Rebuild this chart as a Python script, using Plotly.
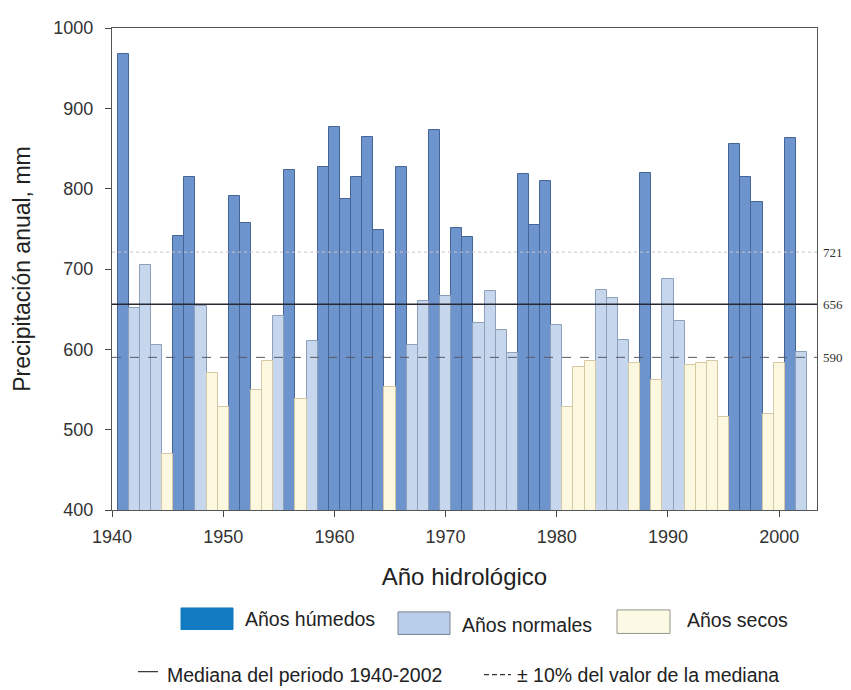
import plotly.graph_objects as go

years = list(range(1941, 2003))
values = [968, 652, 705, 605, 470, 741, 814, 654, 570, 528,
          791, 757, 549, 586, 642, 823, 538, 610, 827, 877,
          787, 814, 864, 748, 553, 827, 605, 660, 873, 667,
          751, 740, 633, 673, 624, 596, 818, 755, 809, 630,
          528, 578, 586, 674, 664, 612, 583, 820, 562, 688,
          635, 581, 583, 585, 516, 855, 814, 783, 519, 583,
          863, 597]
categories = ["H", "N", "N", "N", "S", "H", "H", "N", "S", "S",
              "H", "H", "S", "S", "N", "H", "S", "N", "H", "H",
              "H", "H", "H", "H", "S", "H", "N", "N", "H", "N",
              "H", "H", "N", "N", "N", "N", "H", "H", "H", "N",
              "S", "S", "S", "N", "N", "N", "S", "H", "S", "N",
              "N", "S", "S", "S", "S", "H", "H", "H", "S", "S",
              "H", "N"]
median_value = 656
upper_value = 721
lower_value = 590
x_ticks = [1940, 1950, 1960, 1970, 1980, 1990, 2000]
y_ticks = [400, 500, 600, 700, 800, 900, 1000]

styles = {
    "H": dict(name="Años húmedos", fill="rgb(110,148,205)", line="rgb(70,100,150)"),
    "N": dict(name="Años normales", fill="rgb(198,214,236)", line="rgb(140,160,185)"),
    "S": dict(name="Años secos", fill="rgb(252,248,224)", line="rgb(215,200,165)"),
}

FONT = "Liberation Sans, Arial, sans-serif"
fig = go.Figure()
for key, st in styles.items():
    xs = [y for y, c in zip(years, categories) if c == key]
    vs = [v for v, c in zip(values, categories) if c == key]
    fig.add_trace(go.Bar(x=xs, y=vs, width=1, name=st["name"],
                         marker=dict(color=st["fill"], line=dict(color=st["line"], width=1)),
                         showlegend=False))

# reference lines (in data y coordinates)
fig.add_shape(type="line", xref="paper", x0=0, x1=1, yref="y", y0=upper_value, y1=upper_value,
              line=dict(color="rgb(200,195,200)", width=1, dash="dot"), layer="above")
fig.add_shape(type="line", xref="paper", x0=0, x1=1, yref="y", y0=median_value, y1=median_value,
              line=dict(color="rgb(40,40,50)", width=1.5), layer="above")
fig.add_shape(type="line", xref="paper", x0=0, x1=1, yref="y", y0=lower_value, y1=lower_value,
              line=dict(color="rgb(90,90,100)", width=1, dash="dash"), layer="above")
for v in [upper_value, median_value, lower_value]:
    fig.add_annotation(xref="paper", x=1.006, yref="y", y=v, text=str(v), showarrow=False,
                       xanchor="left", yanchor="middle",
                       font=dict(family="Liberation Serif, Times New Roman, serif", size=13, color="#333"))

# manual legend (paper coordinates; page pixel positions of the reference)
W, H = 705.0, 492.0
def px(x):
    return (x - 112) / W
def py(y):
    return (510 - y) / H

LEG = 19.5
swatches = [
    (181, 233, 610, 632, "rgb(18,122,192)", "rgb(18,122,192)", 243, 621, "Años húmedos"),
    (398, 450, 614, 637, "rgb(184,206,234)", "rgb(120,130,145)", 460, 627, "Años normales"),
    (617, 670, 612, 636, "rgb(252,250,228)", "rgb(150,150,140)", 685, 622, "Años secos"),
]
for x0, x1, y0, y1, fc, lc, tx, ty, label in swatches:
    fig.add_shape(type="rect", xref="paper", yref="paper", x0=px(x0), x1=px(x1), y0=py(y1), y1=py(y0),
                  fillcolor=fc, line=dict(color=lc, width=1))
    fig.add_annotation(xref="paper", yref="paper", x=px(tx), y=py(ty), text=label, showarrow=False,
                       xanchor="left", yanchor="middle", font=dict(family=FONT, size=LEG, color="#222"))

fig.add_shape(type="line", xref="paper", yref="paper", x0=px(138), x1=px(158), y0=py(675), y1=py(675),
              line=dict(color="#333", width=1.2))
fig.add_annotation(xref="paper", yref="paper", x=px(165), y=py(678), text="Mediana del periodo 1940-2002",
                   showarrow=False, xanchor="left", yanchor="middle", font=dict(family=FONT, size=LEG, color="#222"))
fig.add_shape(type="line", xref="paper", yref="paper", x0=px(484), x1=px(511), y0=py(678), y1=py(678),
              line=dict(color="#333", width=1.2, dash="5px,3px"))
fig.add_annotation(xref="paper", yref="paper", x=px(515), y=py(678), text="± 10% del valor de la mediana",
                   showarrow=False, xanchor="left", yanchor="middle", font=dict(family=FONT, size=LEG, color="#222"))

# page has an 8px body margin: size and margins compensate for it
fig.update_layout(
    width=843, height=682,
    margin=dict(l=104, r=34, t=10, b=180),
    paper_bgcolor="white", plot_bgcolor="white",
    barmode="overlay", bargap=0,
    font=dict(family=FONT, size=18, color="#333"),
    xaxis=dict(range=[1940, 2003.4], tickvals=x_ticks, ticks="outside", ticklen=6, tickcolor="#444",
               showline=True, linecolor="#555", linewidth=1.2, mirror=True, showgrid=False, zeroline=False,
               tickfont=dict(size=18, color="#333"), ticklabelstandoff=4,
               title=dict(text="Año hidrológico", font=dict(size=24, color="#222"), standoff=22)),
    yaxis=dict(range=[400, 1000], tickvals=y_ticks, ticks="outside", ticklen=6, tickcolor="#444",
               showline=True, linecolor="#555", linewidth=1.2, mirror=True, showgrid=False, zeroline=False,
               tickfont=dict(size=18, color="#333"), ticklabelstandoff=8,
               title=dict(text="Precipitación anual, mm", font=dict(size=23, color="#222"), standoff=16)),
)

fig.write_html("out.html")
